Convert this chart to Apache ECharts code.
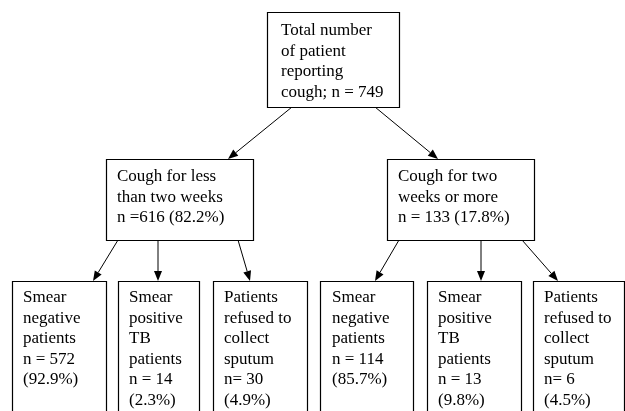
<!DOCTYPE html>
<html>
<head>
<meta charset="utf-8">
<script src="https://cdn.jsdelivr.net/npm/echarts@6/dist/echarts.min.js"></script>
<style>
html,body{margin:0;padding:0;background:#fff;}
#c{width:625px;height:411px;}
</style>
</head>
<body>
<div id="c"></div>
<script>
// ---- data ----
const nodeTitles = [
  'Total number\nof patient\nreporting\ncough;',
  'Cough for less\nthan two weeks',
  'Cough for two\nweeks or more',
  'Smear\nnegative\npatients',
  'Smear\npositive\nTB\npatients',
  'Patients\nrefused to\ncollect\nsputum',
  'Smear\nnegative\npatients',
  'Smear\npositive\nTB\npatients',
  'Patients\nrefused to\ncollect\nsputum'
];
const nodeCounts = [749, 616, 133, 572, 14, 30, 114, 13, 6];
const nodePercents = [null, 82.2, 17.8, 92.9, 2.3, 4.9, 85.7, 9.8, 4.5];
const countPrefixes = ['n = ', 'n =', 'n = ', 'n = ', 'n = ', 'n= ', 'n = ', 'n = ', 'n= '];
const nodeParents = [-1, 0, 0, 1, 1, 1, 2, 2, 2];
const nodeLevels = [0, 1, 1, 2, 2, 2, 2, 2, 2];

// ---- layout (positions in page units mapped through hidden axes) ----
const boxes = [
  [267, 12, 399, 107],
  [106, 159, 253, 240],
  [387, 159, 534, 240],
  [12, 281, 106, 430],
  [118, 281, 199, 430],
  [213, 281, 307, 430],
  [320, 281, 413, 430],
  [427, 281, 521, 430],
  [533, 281, 624, 430]
];
const textPadLeft = [14, 11, 11, 11, 11, 11, 12, 11, 11];
const textPadTop = [8.5, 7.5, 7.5, 6.5, 6.5, 6.5, 6.5, 6.5, 6.5];
// edge anchor x: [x on parent bottom, x on child top], index = child
const edgeAnchors = {
  1: [292, 228], 2: [375, 438],
  3: [118, 93], 4: [158, 158], 5: [238, 250],
  6: [399, 375], 7: [481, 481], 8: [522, 558]
};

function nodeText(i) {
  const c = countPrefixes[i] + nodeCounts[i];
  if (nodeLevels[i] === 0) return nodeTitles[i] + ' ' + c;
  if (nodeLevels[i] === 1) return nodeTitles[i] + '\n' + c + ' (' + nodePercents[i] + '%)';
  return nodeTitles[i] + '\n' + c + '\n(' + nodePercents[i] + '%)';
}

const FONT = '17px "Liberation Serif", "Times New Roman", serif';
const chart = echarts.init(document.getElementById('c'), null, {renderer: 'canvas'});

const nodeData = nodeTitles.map((t, i) => [i]);
const edgeData = [];
for (let i = 0; i < nodeParents.length; i++) if (nodeParents[i] >= 0) edgeData.push([i]);

chart.setOption({
  animation: false,
  backgroundColor: '#fff',
  grid: {left: 0, right: 0, top: 0, bottom: 0},
  xAxis: {type: 'value', min: 0, max: 625, show: false},
  yAxis: {type: 'value', min: 0, max: 411, inverse: true, show: false},
  series: [
    {
      type: 'custom',
      coordinateSystem: 'cartesian2d',
      silent: true,
      clip: false,
      data: edgeData,
      renderItem: function (params, api) {
        const i = api.value(0);
        const p = nodeParents[i];
        const a = edgeAnchors[i];
        const s = api.coord([a[0], boxes[p][3]]);
        const e = api.coord([a[1], boxes[i][1]]);
        const dx = e[0] - s[0], dy = e[1] - s[1];
        const len = Math.sqrt(dx * dx + dy * dy);
        const ux = dx / len, uy = dy / len;
        const L = 10, W = 4;
        const bx = e[0] - ux * L, by = e[1] - uy * L;
        return {
          type: 'group',
          children: [
            {type: 'line', shape: {x1: s[0], y1: s[1], x2: bx, y2: by},
             style: {stroke: '#000', lineWidth: 1}},
            {type: 'polygon', shape: {points: [
              [e[0], e[1]],
              [bx - uy * W, by + ux * W],
              [bx + uy * W, by - ux * W]
            ]}, style: {fill: '#000'}}
          ]
        };
      }
    },
    {
      type: 'custom',
      coordinateSystem: 'cartesian2d',
      silent: true,
      clip: false,
      data: nodeData,
      renderItem: function (params, api) {
        const i = api.value(0);
        const b = boxes[i];
        const p0 = api.coord([b[0], b[1]]);
        const p1 = api.coord([b[2], b[3]]);
        return {
          type: 'group',
          children: [
            {type: 'rect', shape: {x: Math.round(p0[0]) + 0.5, y: Math.round(p0[1]) + 0.5,
              width: Math.round(p1[0] - p0[0]), height: Math.round(p1[1] - p0[1])},
             style: {fill: '#fff', stroke: '#000', lineWidth: 1.2}},
            {type: 'text', style: {
              text: nodeText(i),
              x: p0[0] + textPadLeft[i],
              y: p0[1] + textPadTop[i],
              font: FONT,
              fill: '#000',
              lineHeight: 20.5,
              align: 'left',
              verticalAlign: 'top'
            }}
          ]
        };
      }
    }
  ]
});
</script>
</body>
</html>
